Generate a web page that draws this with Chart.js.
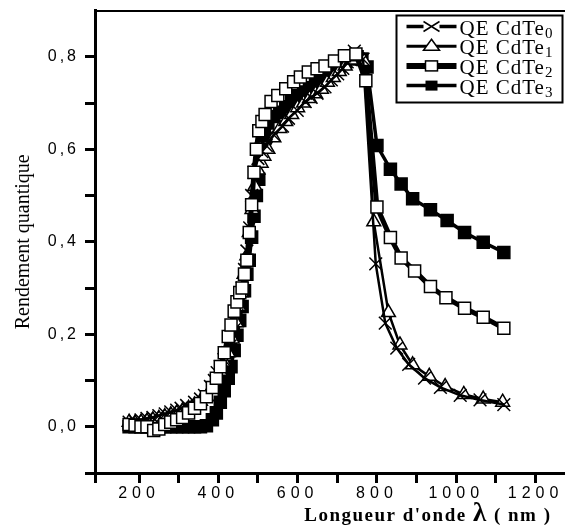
<!DOCTYPE html>
<html>
<head>
<meta charset="utf-8">
<script src="https://cdn.jsdelivr.net/npm/chart.js@4/dist/chart.umd.min.js"></script>
<style>
html,body{margin:0;padding:0;background:#fff;overflow:hidden}
canvas{display:block}
</style>
</head>
<body>
<canvas id="c" width="575" height="527"></canvas>
<script>
// ---- data (wavelength in nm, quantum efficiency) ----
const wl0 = [175,190,205,220,235,250,266,280,295,306,320,340,355,365,380,390,397,405,414,422,430,440,447,454,460,466,472,479,484,490,500,510,521,540,562,577,599,619,634,649,669,685,701,714,725,743,765,797,821,850,880,920,960,1010,1060,1120];
const qe0 = [0.010,0.012,0.015,0.018,0.020,0.024,0.028,0.032,0.036,0.040,0.046,0.053,0.060,0.068,0.087,0.100,0.117,0.130,0.145,0.160,0.175,0.210,0.240,0.270,0.300,0.340,0.380,0.430,0.500,0.550,0.580,0.595,0.608,0.631,0.650,0.667,0.684,0.703,0.712,0.721,0.735,0.750,0.763,0.775,0.789,0.812,0.795,0.352,0.224,0.170,0.135,0.105,0.085,0.068,0.058,0.048];

const wl1 = [175,190,205,220,235,250,265,280,295,310,325,340,355,370,385,395,405,415,425,435,445,452,458,465,472,478,485,492,500,508,515,525,540,555,570,585,600,615,630,645,660,675,690,705,720,735,752,768,792,829,858,890,932,972,1019,1068,1117];
const qe1 = [0.010,0.008,0.010,0.012,0.015,0.018,0.022,0.026,0.030,0.035,0.040,0.047,0.055,0.065,0.085,0.100,0.120,0.140,0.160,0.190,0.225,0.260,0.290,0.330,0.370,0.420,0.470,0.520,0.555,0.570,0.585,0.600,0.625,0.645,0.660,0.675,0.690,0.700,0.710,0.720,0.730,0.745,0.755,0.768,0.780,0.793,0.800,0.790,0.443,0.247,0.177,0.134,0.109,0.087,0.070,0.060,0.053];

const wl2 = [175,190,205,220,237,250,265,280,295,310,325,340,355,370,385,395,405,415,425,432,440,447,454,460,466,472,478,484,490,496,502,510,518,533,550,570,590,607,627,649,669,693,718,747,772,800,834,861,895,935,974,1021,1068,1120];
const qe2 = [0.005,0.003,0.000,0.000,-0.008,-0.005,0.005,0.010,0.015,0.020,0.030,0.040,0.050,0.065,0.085,0.105,0.130,0.160,0.195,0.220,0.250,0.270,0.290,0.300,0.330,0.360,0.420,0.480,0.550,0.600,0.640,0.660,0.675,0.703,0.716,0.731,0.746,0.756,0.767,0.774,0.780,0.791,0.802,0.806,0.748,0.475,0.409,0.365,0.337,0.303,0.279,0.256,0.237,0.213];

const wl3 = [175,190,205,220,235,250,265,280,295,310,325,340,355,370,385,395,405,415,425,432,440,447,454,460,466,472,478,484,490,496,502,508,516,525,540,555,570,585,600,615,630,645,660,675,690,705,720,735,750,762,775,800,834,861,890,935,977,1021,1068,1120];
const qe3 = [0,0,0,0,0,0,0,0,0,0,0,0,0,0.002,0.015,0.030,0.053,0.078,0.105,0.130,0.165,0.198,0.230,0.260,0.294,0.330,0.360,0.410,0.455,0.500,0.535,0.600,0.629,0.657,0.671,0.680,0.692,0.705,0.716,0.724,0.733,0.745,0.753,0.763,0.772,0.780,0.787,0.795,0.800,0.795,0.778,0.608,0.557,0.525,0.493,0.469,0.446,0.420,0.399,0.377];

const seriesLabel = 'QE CdTe';
const seriesSubs = ['0','1','2','3'];

// ---- axes ----
const xMin = 89, xMax = 1273;
const yMin = -0.1, yMax = 0.9;
const xTickValues = [89,200,300,400,500,600,700,800,900,1000,1100,1200];
const xTickLabels = ['','200','','400','','600','','800','','1000','','1200'];
const yTickValues = [-0.1,0,0.1,0.2,0.3,0.4,0.5,0.6,0.7,0.8];
const yTickLabels = ['','0,0','','0,2','','0,4','','0,6','','0,8'];
const yTitle = 'Rendement quantique';
const xTitleParts = ["Longueur d'onde ", 'λ', ' ( nm )'];

const pts = (xs, ys) => xs.map((x, i) => ({x: x, y: ys[i]}));

const styles = [
  {pointStyle:'crossRot', radius:9, bg:'#000', lw:2.5, order:1},
  {pointStyle:'triangle', radius:8, bg:'#fff', lw:2.5, order:2},
  {pointStyle:'rect', radius:8.5, bg:'#fff', lw:5, order:0},
  {pointStyle:'rect', radius:8.5, bg:'#000', lw:3.5, order:3}
];
const allData = [pts(wl0,qe0), pts(wl1,qe1), pts(wl2,qe2), pts(wl3,qe3)];

const datasets = allData.map((d, i) => ({
  label: seriesLabel + seriesSubs[i],
  data: d,
  showLine: true,
  borderColor: '#000',
  borderWidth: styles[i].lw,
  pointStyle: styles[i].pointStyle,
  pointRadius: styles[i].radius,
  pointBackgroundColor: styles[i].bg,
  pointBorderColor: '#000',
  pointBorderWidth: 1.5,
  order: styles[i].order,
  tension: 0
}));

// letter-spaced tick labels (the reference digits are widely spaced)
const spacingPlugin = {
  id: 'spacing',
  afterLayout(chart) {
    [['x','5px'],['y','3px']].forEach(([id, sp]) => {
      const s = chart.scales[id];
      if (!s || s._spPatched) return;
      const orig = s.drawLabels;
      s.drawLabels = function(area) {
        const ctx = this.ctx;
        ctx.letterSpacing = sp;
        orig.call(this, area);
        ctx.letterSpacing = '0px';
      };
      s._spPatched = true;
    });
  }
};

// legend with subscripts + x axis title with large lambda
const decorPlugin = {
  id: 'decor',
  afterDraw(chart) {
    const ctx = chart.ctx;
    const ca = chart.chartArea;
    ctx.save();
    // legend box
    const bw = 166, bh = 87;
    const bx = ca.right - bw - 2, by = ca.top + 5;
    ctx.fillStyle = '#fff';
    ctx.fillRect(bx, by, bw, bh);
    ctx.strokeStyle = '#000';
    ctx.lineWidth = 2;
    ctx.strokeRect(bx, by, bw, bh);
    const rowH = 19.7;
    const x1 = bx + 10, x2 = bx + 60, xm = (x1 + x2) / 2;
    const lineW = [3.5, 3, 6, 3.5];
    for (let i = 0; i < 4; i++) {
      const y = by + 11 + i * rowH;
      ctx.strokeStyle = '#000';
      ctx.fillStyle = '#000';
      ctx.lineWidth = lineW[i];
      ctx.beginPath();
      if (i === 0) {
        ctx.moveTo(x1, y); ctx.lineTo(xm - 8, y);
        ctx.moveTo(xm + 8, y); ctx.lineTo(x2, y);
      } else {
        ctx.moveTo(x1, y); ctx.lineTo(x2, y);
      }
      ctx.stroke();
      ctx.lineWidth = 1.5;
      if (i === 0) {
        ctx.beginPath();
        ctx.moveTo(xm - 8, y - 5); ctx.lineTo(xm + 8, y + 5);
        ctx.moveTo(xm - 8, y + 5); ctx.lineTo(xm + 8, y - 5);
        ctx.stroke();
      } else if (i === 1) {
        ctx.beginPath();
        ctx.moveTo(xm, y - 7); ctx.lineTo(xm + 8, y + 4); ctx.lineTo(xm - 8, y + 4); ctx.closePath();
        ctx.fillStyle = '#fff'; ctx.fill(); ctx.stroke();
      } else if (i === 2) {
        ctx.fillStyle = '#fff';
        ctx.fillRect(xm - 6, y - 5, 12, 10);
        ctx.strokeRect(xm - 6, y - 5, 12, 10);
      } else {
        ctx.fillStyle = '#000';
        ctx.fillRect(xm - 6, y - 5, 12, 10);
      }
      ctx.fillStyle = '#000';
      ctx.textAlign = 'left';
      ctx.textBaseline = 'alphabetic';
      ctx.letterSpacing = '1px';
      ctx.font = "21px 'Liberation Serif'";
      const tx = x2 + 3;
      ctx.fillText(seriesLabel, tx, y + 8);
      const w = ctx.measureText(seriesLabel).width;
      ctx.font = "15px 'Liberation Serif'";
      ctx.fillText(seriesSubs[i], tx + w, y + 11);
    }
    // x axis title
    const fonts = ["bold 19px 'Liberation Serif'", "bold 27px 'Liberation Serif'", "bold 19px 'Liberation Serif'"];
    ctx.letterSpacing = '1.5px';
    let total = 0;
    const widths = xTitleParts.map((t, i) => { ctx.font = fonts[i]; const w = ctx.measureText(t).width; total += w; return w; });
    let tx = ca.right - 13 - total;
    const ty = chart.height - 6;
    xTitleParts.forEach((t, i) => { ctx.font = fonts[i]; ctx.fillText(t, tx, ty); tx += widths[i]; });
    ctx.restore();
  }
};

const tickFont = {family: "'Liberation Sans', Arial, sans-serif", size: 16};
const gridCfg = {display: true, drawOnChartArea: false, drawTicks: true, tickLength: 10, tickWidth: 3, tickColor: '#000', color: '#000'};

new Chart(document.getElementById('c'), {
  type: 'scatter',
  data: {datasets: datasets},
  plugins: [spacingPlugin, decorPlugin],
  options: {
    responsive: false,
    animation: false,
    devicePixelRatio: 1,
    layout: {padding: 0},
    plugins: {legend: {display: false}, tooltip: {enabled: false}},
    scales: {
      x: {
        type: 'linear', position: 'bottom', min: xMin, max: xMax,
        afterBuildTicks: s => { s.ticks = xTickValues.map(v => ({value: v})); },
        afterFit: s => { s.height = 54; s.paddingLeft = 0; s.paddingRight = 0; },
        ticks: {
          font: tickFont, color: '#000', padding: 1, maxRotation: 0, autoSkip: false,
          callback: (v, i) => xTickLabels[i]
        },
        grid: gridCfg,
        border: {display: true, color: '#000', width: 3}
      },
      xTop: {
        type: 'linear', position: 'top', min: xMin, max: xMax, display: true,
        afterFit: s => { s.height = 8; s.paddingLeft = 0; s.paddingRight = 0; },
        ticks: {display: false},
        grid: {display: false, drawTicks: false},
        border: {display: true, color: '#000', width: 2}
      },
      y: {
        type: 'linear', position: 'left', min: yMin, max: yMax,
        afterBuildTicks: s => { s.ticks = yTickValues.map(v => ({value: v})); },
        afterFit: s => { s.width = 95; s.paddingTop = 0; s.paddingBottom = 0; },
        ticks: {
          font: tickFont, color: '#000', padding: 6, autoSkip: false,
          callback: (v, i) => yTickLabels[i]
        },
        grid: gridCfg,
        border: {display: true, color: '#000', width: 3},
        title: {
          display: true, text: yTitle, color: '#000',
          font: {family: "'Liberation Serif', serif", size: 20},
          padding: {top: 12, bottom: 0}
        }
      }
    }
  }
});
</script>
</body>
</html>
